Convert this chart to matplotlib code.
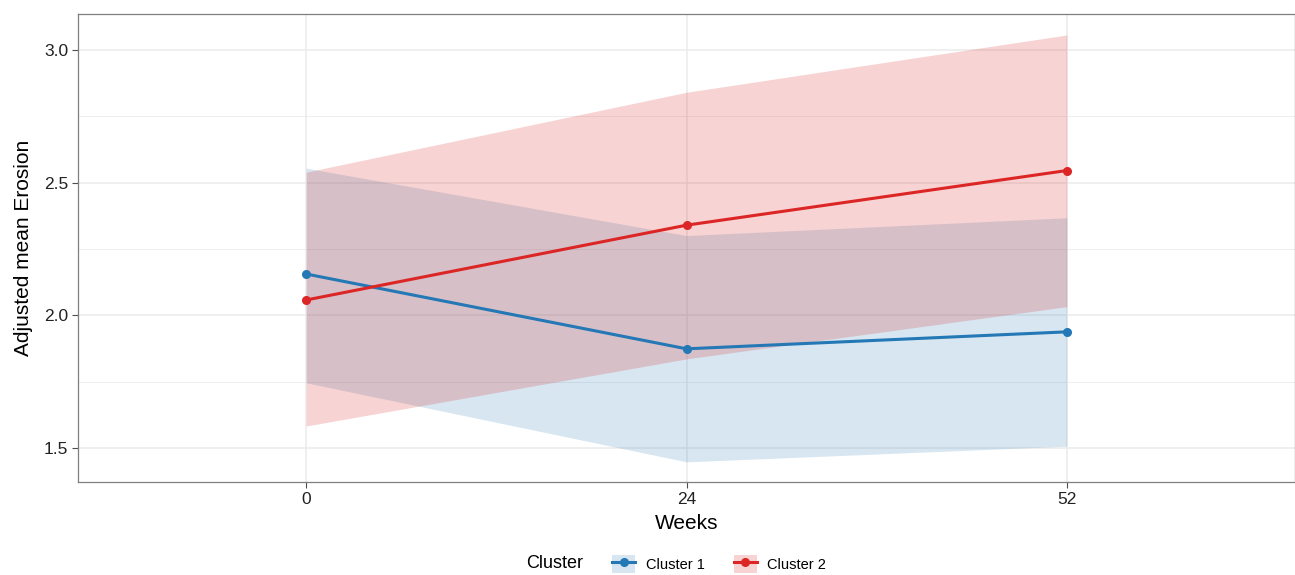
import matplotlib.pyplot as plt
from matplotlib.patches import Patch
from matplotlib.lines import Line2D
from matplotlib.legend_handler import HandlerTuple
from matplotlib.ticker import MultipleLocator

plt.rcParams['font.family'] = ['Liberation Sans', 'DejaVu Sans']

weeks = ["0", "24", "52"]

# adjusted means with confidence bands
c1_mean = [2.156, 1.874, 1.938]
c1_low = [1.746, 1.448, 1.507]
c1_high = [2.555, 2.301, 2.368]

c2_mean = [2.058, 2.340, 2.546]
c2_low = [1.583, 1.836, 2.033]
c2_high = [2.540, 2.841, 3.057]

blue = "#2378b5"
red = "#dc2626"

fig = plt.figure(figsize=(12.95, 5.75), dpi=100)
ax = fig.add_axes([78 / 1295, 1 - 482 / 575, 1 - 78 / 1295, (482 - 14) / 575])

x = list(range(len(weeks)))
ax.fill_between(x, c1_low, c1_high, color=blue, alpha=0.18, linewidth=0, zorder=2)
ax.fill_between(x, c2_low, c2_high, color=red, alpha=0.2, linewidth=0, zorder=2)
ax.plot(x, c1_mean, color=blue, lw=2.2, marker='o', ms=5.5, zorder=4)
ax.plot(x, c2_mean, color=red, lw=2.2, marker='o', ms=5.5, zorder=4)

ax.set_xlim(-0.6, 2.6)
ax.set_ylim(1.372, 3.136)
ax.set_xticks(x)
ax.set_xticklabels(weeks)
ax.yaxis.set_major_locator(MultipleLocator(0.5))
ax.yaxis.set_minor_locator(MultipleLocator(0.25))
ax.yaxis.set_major_formatter(plt.FormatStrFormatter('%.1f'))

ax.grid(True, which='major', color='#ebebeb', lw=1.1, zorder=0)
ax.grid(True, which='minor', axis='y', color='#ebebeb', lw=0.6, zorder=0)
ax.set_axisbelow(True)
ax.tick_params(which='minor', length=0)
ax.tick_params(which='major', length=4, width=0.8, color='#4d4d4d',
               labelsize=12.5, labelcolor='#222222', pad=3)
for s in ax.spines.values():
    s.set_color('#7f7f7f')
    s.set_linewidth(0.9)

ax.set_xlabel("Weeks", fontsize=15, labelpad=5)
ax.set_ylabel("Adjusted mean Erosion", fontsize=15, labelpad=8)

# legend along the bottom, title to the left of the keys
fig.text(526 / 1295, 1 - 564 / 575, "Cluster", fontsize=13, va='center', ha='left')
handles = [
    (Patch(facecolor=blue, alpha=0.18, edgecolor='none'),
     Line2D([], [], color=blue, lw=2.2, marker='o', ms=5.5)),
    (Patch(facecolor=red, alpha=0.2, edgecolor='none'),
     Line2D([], [], color=red, lw=2.2, marker='o', ms=5.5)),
]
fig.legend(handles, ["Cluster 1", "Cluster 2"], ncol=2, frameon=False,
           loc='center left', bbox_to_anchor=(599 / 1295, 1 - 564 / 575),
           handler_map={tuple: HandlerTuple(ndivide=1, pad=0)},
           handlelength=1.6, handleheight=1.6, handletextpad=0.7,
           columnspacing=2.0, fontsize=10.5)

fig.savefig("out.png", dpi=100)
